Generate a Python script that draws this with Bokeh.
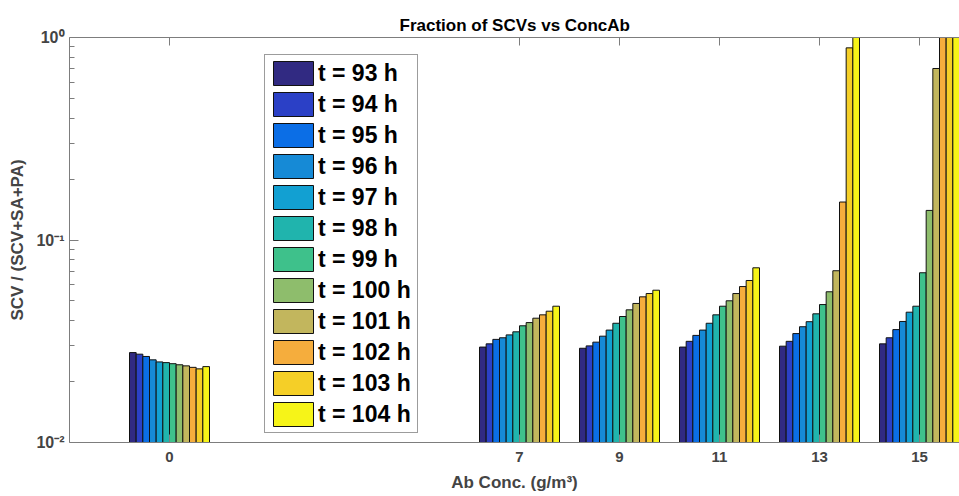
from bokeh.plotting import figure
from bokeh.models import Range1d, FixedTicker, LinearAxis, CustomJSTickFormatter, Legend, LegendItem
from bokeh.embed import file_html
from bokeh.resources import INLINE

# Antibiotic concentrations (g/m^3) and their tick labels
conc = [0, 7, 9, 11, 13, 15]
conc_labels = ["0", "7", "9", "11", "13", "15"]

# Sampling times (h)
hours = [93, 94, 95, 96, 97, 98, 99, 100, 101, 102, 103, 104]

# SCV fraction per concentration, one value per sampling time
frac_c0 = [0.0278, 0.0273, 0.0266, 0.0256, 0.0250, 0.0248, 0.0245, 0.0242, 0.0239, 0.0235, 0.0231, 0.0237]
frac_c7 = [0.0296, 0.0307, 0.0323, 0.0329, 0.0340, 0.0352, 0.0377, 0.0391, 0.0411, 0.0427, 0.0445, 0.0471]
frac_c9 = [0.0292, 0.0300, 0.0313, 0.0335, 0.0359, 0.0388, 0.0419, 0.0452, 0.0486, 0.0524, 0.0544, 0.0565]
frac_c11 = [0.0296, 0.0316, 0.0338, 0.0359, 0.0388, 0.0427, 0.0471, 0.0501, 0.0544, 0.0589, 0.0631, 0.0729]
frac_c13 = [0.0299, 0.0316, 0.0345, 0.0373, 0.0395, 0.0432, 0.0480, 0.0555, 0.0705, 0.154, 0.889, 1.0]
frac_c15 = [0.0307, 0.0329, 0.0361, 0.0396, 0.0440, 0.0471, 0.0689, 0.140, 0.703, 1.0, 1.0, 1.0]

y_ticks = [0.01, 0.1, 1.0]
y_tick_labels = ["10\u207b\u00b2", "10\u207b\u00b9", "10\u2070"]
y_minor = [k * 0.01 for k in range(2, 10)] + [k * 0.1 for k in range(2, 10)]

# parula-like palette, one colour per sampling time
colors = ["#312a82", "#2b40c6", "#0b6ee6", "#168ad6", "#12a0d2", "#20b4ad",
          "#3ec18b", "#8ebd6c", "#c2b65d", "#f5ad3d", "#f5cf27", "#f6f418"]

groups = [frac_c0, frac_c7, frac_c9, frac_c11, frac_c13, frac_c15]
FONT = "Liberation Sans"

p = figure(width=959, height=496, output_backend="svg", toolbar_location=None,
           y_axis_type="log", x_range=Range1d(-2, 15.8), y_range=Range1d(0.01, 1.0),
           min_border_left=69, min_border_right=0, min_border_top=37, min_border_bottom=54)
p.outline_line_color = None
p.xgrid.visible = False
p.ygrid.visible = False
p.background_fill_color = "white"
p.border_fill_color = "white"

n = len(hours)
group_width = 1.6
step = group_width / n
items = []
for i, h in enumerate(hours):
    off = (i - (n - 1) / 2) * step
    xs = [c + off for c in conc]
    tops = [g[i] for g in groups]
    r = p.vbar(x=xs, top=tops, bottom=0.01, width=step, fill_color=colors[i],
               line_color="#111111", line_width=1)
    items.append(LegendItem(label=f"t = {h} h", renderers=[r]))

legend = Legend(items=items, location=(195, 9), margin=0, padding=3, spacing=1,
                glyph_width=50, glyph_height=30, label_standoff=0, label_width=96,
                label_text_font=FONT, label_text_font_style="bold", label_text_font_size="23px",
                label_text_color="black", border_line_color="#3a3a3a", border_line_width=1,
                background_fill_color="white", background_fill_alpha=1.0)
p.add_layout(legend, "center")

AX = "#7d7d7d"

xa = p.xaxis[0]
xa.ticker = FixedTicker(ticks=conc)
xa.major_label_overrides = {c: lab for c, lab in zip(conc, conc_labels)}
xa.axis_label = "Ab Conc. (g/m\u00b3)"
xa.major_tick_in = 8
xa.major_tick_out = 0
xa.minor_tick_in = 0
xa.minor_tick_out = 0
xa.axis_line_color = AX
xa.major_tick_line_color = AX
xa.major_label_standoff = 9
xa.major_label_text_font = FONT
xa.major_label_text_font_style = "bold"
xa.major_label_text_font_size = "15px"
xa.axis_label_text_font = FONT
xa.axis_label_text_font_style = "bold"
xa.axis_label_text_font_size = "17px"
xa.axis_label_standoff = 8

ya = p.yaxis[0]
ya.ticker = FixedTicker(ticks=y_ticks, minor_ticks=y_minor)
ya.formatter = CustomJSTickFormatter(args=dict(tick_vals=y_ticks, tick_texts=y_tick_labels), code="""
    for (let i = 0; i < tick_vals.length; i++) {
        if (Math.abs(Math.log10(tick_vals[i]) - Math.log10(tick)) < 1e-6) { return tick_texts[i]; }
    }
    return "";
""")
ya.axis_label = "SCV / (SCV+SA+PA)"
ya.major_tick_in = 9
ya.major_tick_out = 0
ya.minor_tick_in = 5
ya.minor_tick_out = 0
ya.axis_line_color = AX
ya.major_tick_line_color = AX
ya.minor_tick_line_color = AX
ya.major_label_standoff = 5
ya.major_label_text_font = FONT
ya.major_label_text_font_style = "bold"
ya.major_label_text_font_size = "16px"
ya.axis_label_text_font = FONT
ya.axis_label_text_font_style = "bold"
ya.axis_label_text_font_size = "17px"
ya.axis_label_standoff = 6

# top box edge with inward ticks and no labels
top = LinearAxis(ticker=FixedTicker(ticks=conc),
                 formatter=CustomJSTickFormatter(code="return '';"),
                 major_tick_in=8, major_tick_out=0, minor_tick_in=0, minor_tick_out=0,
                 axis_line_color=AX, major_tick_line_color=AX, major_label_standoff=0)
p.add_layout(top, "above")

p.title.text = "Fraction of SCVs vs ConcAb"
p.title.align = "left"
p.title.offset = 330
p.title.text_font = FONT
p.title.text_font_style = "bold"
p.title.text_font_size = "17px"
p.title.text_color = "black"
p.title.standoff = 5

open("out.html", "w").write(file_html(p, INLINE))
